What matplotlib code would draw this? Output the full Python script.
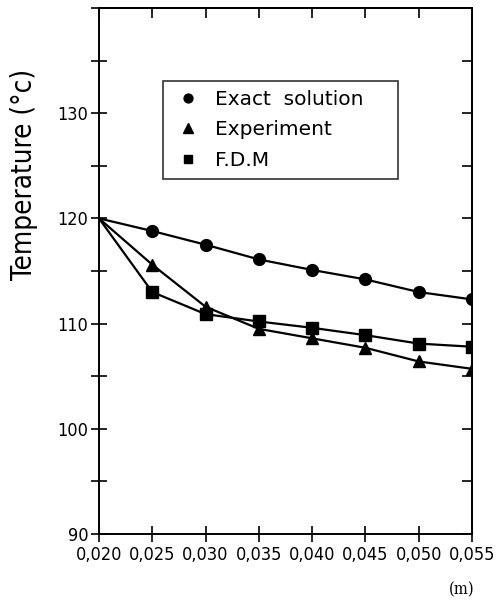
import numpy as np
import matplotlib.pyplot as plt
from matplotlib import font_manager
from matplotlib.ticker import MultipleLocator, FuncFormatter

# distance (m)
x = [0.020, 0.025, 0.030, 0.035, 0.040, 0.045, 0.050, 0.055]

# temperature (C)
exact = [120.0, 118.8, 117.5, 116.1, 115.1, 114.2, 113.0, 112.3]
experiment = [120.0, 115.6, 111.6, 109.5, 108.6, 107.7, 106.4, 105.7]
fdm = [120.0, 113.0, 110.9, 110.2, 109.6, 108.9, 108.1, 107.8]

# pick a narrow face if one is around
fonts = font_manager.fontManager.ttflist
names = {f.name for f in fonts}
if any(f.name == 'DejaVu Sans' and f.stretch == 'condensed' for f in fonts):
    plt.rcParams['font.family'] = 'DejaVu Sans'
    plt.rcParams['font.stretch'] = 'condensed'
elif 'Liberation Sans Narrow' in names:
    plt.rcParams['font.family'] = 'Liberation Sans Narrow'
elif 'Roboto Condensed' in names:
    plt.rcParams['font.family'] = 'Roboto Condensed'
else:
    plt.rcParams['font.family'] = 'DejaVu Sans'

fig = plt.figure(figsize=(5.02, 6.05), dpi=100)
ax = fig.add_axes([99/502, 1-534/605, 373/502, 526/605])

ax.plot(x, exact, c='k', lw=1.6, marker='o', ms=8.5, markevery=range(1, 8), label='Exact  solution')
ax.plot(x, experiment, c='k', lw=1.6, marker='^', ms=9, markevery=range(1, 8), label='Experiment')
ax.plot(x, fdm, c='k', lw=1.6, marker='s', ms=8, markevery=range(1, 8), label='F.D.M')

ax.set_xlim(0.020, 0.055)
ax.set_ylim(90, 140)
ax.xaxis.set_major_locator(MultipleLocator(0.005))
ax.yaxis.set_major_locator(MultipleLocator(10))
ax.yaxis.set_minor_locator(MultipleLocator(5))
ax.xaxis.set_major_formatter(FuncFormatter(lambda v, p: ('%.3f' % v).replace('.', ',')))
ax.yaxis.set_major_formatter(FuncFormatter(lambda v, p: '%d' % v if 90 <= v <= 130 else ''))
ax.tick_params(which='both', direction='inout', length=11, width=1.2)
ax.tick_params(which='major', labelsize=13)
ax.tick_params(axis='x', pad=3)
ax.tick_params(axis='y', pad=2)

# top and right: inward ticks only
top = ax.secondary_xaxis('top')
top.xaxis.set_major_locator(MultipleLocator(0.005))
top.tick_params(direction='in', length=7, width=1.2, labeltop=False)
right = ax.secondary_yaxis('right')
right.yaxis.set_major_locator(MultipleLocator(10))
right.yaxis.set_minor_locator(MultipleLocator(5))
right.tick_params(which='both', direction='in', length=7, width=1.2, labelright=False)

for s in list(ax.spines.values()) + [top.spines['top'], right.spines['right']]:
    s.set_linewidth(1.4)

ax.set_ylabel('Temperature (°c)', fontsize=20)
ax.yaxis.set_label_coords((38-99)/373, (534-174)/526)
fig.text(462/502, 1-590/605, '(m)', family='serif', fontsize=12, ha='center', va='center')

# legend box spans x 163..398 px in the reference
leg = ax.legend(loc='upper left', bbox_to_anchor=(64/373, 1-73/526-0.01, 235/373, 0.01),
                mode='expand', borderaxespad=0,
                prop={'family': 'DejaVu Sans', 'stretch': 'normal', 'size': 14.5},
                frameon=True, fancybox=False, edgecolor='k', handlelength=1.6,
                handletextpad=0.55, borderpad=0.44, labelspacing=0.57, markerscale=0.75)
leg.get_frame().set_linewidth(1.2)
for h in leg.legend_handles:
    h.set_linestyle('none')

fig.savefig('out.png', dpi=100)
